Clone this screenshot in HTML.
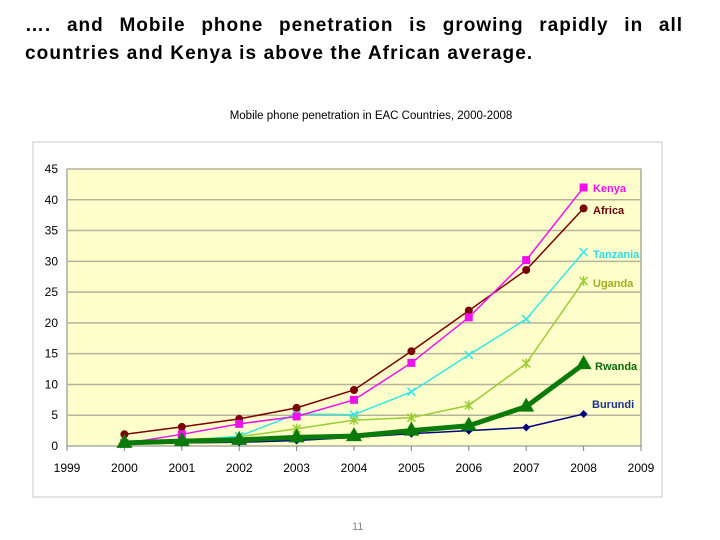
<!DOCTYPE html>
<html><head><meta charset="utf-8"><style>
body{margin:0;width:720px;height:540px;background:#fff;position:relative;overflow:hidden;font-family:"Liberation Sans",sans-serif}
#head{position:absolute;left:25px;top:12px;width:658px;font-size:19px;font-weight:bold;line-height:28px;text-align:justify;text-align-last:justify;color:#000;letter-spacing:1px}
#head2{position:absolute;left:25px;top:40px;font-size:19px;font-weight:bold;line-height:28px;color:#000;letter-spacing:1.1px}
#ct{position:absolute;left:0;top:110px;width:742px;text-align:center;font-size:11.5px}
#pg{position:absolute;left:352px;top:521px;font-size:11px;color:#888}
</style></head><body>
<div id="head">…. and Mobile phone penetration is growing rapidly in all</div>
<div id="head2">countries and Kenya is above the African average.</div>
<div id="ct">Mobile phone penetration in EAC Countries, 2000-2008</div>
<svg id="chart" width="720" height="540" style="position:absolute;left:0;top:0">
<rect x="33" y="142" width="629" height="355" fill="#fff" stroke="#c8c8c8"/>
<rect x="67" y="169" width="574" height="277" fill="#ffffcc" stroke="#808080"/>
<g id="g"></g>
</svg>
<div id="pg">11</div>
<script>
const years=[2000,2001,2002,2003,2004,2005,2006,2007,2008];
const yTicks=[0,5,10,15,20,25,30,35,40,45];
const xTicks=[1999,2000,2001,2002,2003,2004,2005,2006,2007,2008,2009];
const kenya=[0.4,1.9,3.6,4.8,7.5,13.5,20.9,30.2,42];
const africa=[1.9,3.1,4.4,6.2,9.1,15.4,22,28.6,38.6];
const tanzania=[0.3,0.8,1.6,5.2,5.1,8.8,14.8,20.6,31.5];
const uganda=[0.5,1.0,1.5,2.8,4.2,4.6,6.6,13.4,26.8];
const rwanda=[0.5,0.8,1.0,1.4,1.6,2.5,3.3,6.4,13.3];
const burundi=[0.3,0.5,0.6,0.9,1.4,2.0,2.5,3.0,5.2];
const X=v=>67+(v-1999)*57.4, Y=v=>446-v*(277/45);
const g=document.getElementById('g'),NS='http://www.w3.org/2000/svg';
function mk(t,a){const e=document.createElementNS(NS,t);for(const k in a)e.setAttribute(k,a[k]);g.appendChild(e);return e;}
yTicks.forEach(t=>{
 if(t>0){const l=mk('line',{x1:67,x2:641,y1:Y(t),y2:Y(t),stroke:'#b4b49a','stroke-width':1.5});
 
 }
 const tx=mk('text',{x:58,y:Y(t)+4,'text-anchor':'end','font-size':12,fill:'#000'});tx.textContent=t;
 
 
});
xTicks.forEach(t=>{
 mk('line',{x1:X(t),x2:X(t),y1:446,y2:451,stroke:'#808080'});
 const tx=mk('text',{x:X(t),y:472,'text-anchor':'middle','font-size':12,fill:'#000'});tx.textContent=t;
 
 
});
const series=[
 {n:'burundi',d:burundi,c:'#000080',w:1.5,m:'diamond',lab:'Burundi',lx:592,lc:'#1f2f9f'},
 {n:'uganda',d:uganda,c:'#9acd32',w:1.5,m:'star',lab:'Uganda',lx:593,lc:'#9ab020'},
 {n:'tanzania',d:tanzania,c:'#33e6e6',w:1.5,m:'x',lab:'Tanzania',lx:593,lc:'#33d6e6'},
 {n:'africa',d:africa,c:'#7b0000',w:1.5,m:'circle',lab:'Africa',lx:593,lc:'#6b0000'},
 {n:'kenya',d:kenya,c:'#ee11ee',w:1.5,m:'square',lab:'Kenya',lx:593,lc:'#ee11ee'},
 {n:'rwanda',d:rwanda,c:'#0a7a0a',w:5,m:'tri',lab:'Rwanda',lx:595,lc:'#0a6a0a'}
];
const labY={kenya:192,africa:214,tanzania:258,uganda:287,rwanda:370,burundi:408};
series.forEach(s=>{
 const p=mk('polyline',{points:s.d.map((v,i)=>X(years[i])+','+Y(v)).join(' '),fill:'none',stroke:s.c,'stroke-width':s.w});
 
 
 s.d.forEach((v,i)=>{
  const x=X(years[i]),y=Y(v);let e;
  if(s.m=='circle')e=mk('circle',{cx:x,cy:y,r:4,fill:s.c});
  else if(s.m=='square')e=mk('rect',{x:x-4,y:y-4,width:8,height:8,fill:s.c});
  else if(s.m=='diamond')e=mk('polygon',{points:`${x},${y-4} ${x+4},${y} ${x},${y+4} ${x-4},${y}`,fill:s.c});
  else if(s.m=='tri')e=mk('polygon',{points:`${x},${y-9} ${x+8},${y+5} ${x-8},${y+5}`,fill:s.c});
  else if(s.m=='x')e=mk('path',{d:`M${x-4},${y-4}L${x+4},${y+4}M${x+4},${y-4}L${x-4},${y+4}`,stroke:s.c,'stroke-width':1.5});
  else e=mk('path',{d:`M${x-4},${y-4}L${x+4},${y+4}M${x+4},${y-4}L${x-4},${y+4}M${x},${y-5}L${x},${y+5}`,stroke:s.c,'stroke-width':1.5});
  
  
 });
 const t=mk('text',{x:s.lx,y:labY[s.n],'font-size':11,'font-weight':'bold',fill:s.lc});t.textContent=s.lab;
 
 
});
</script>
</body></html>
